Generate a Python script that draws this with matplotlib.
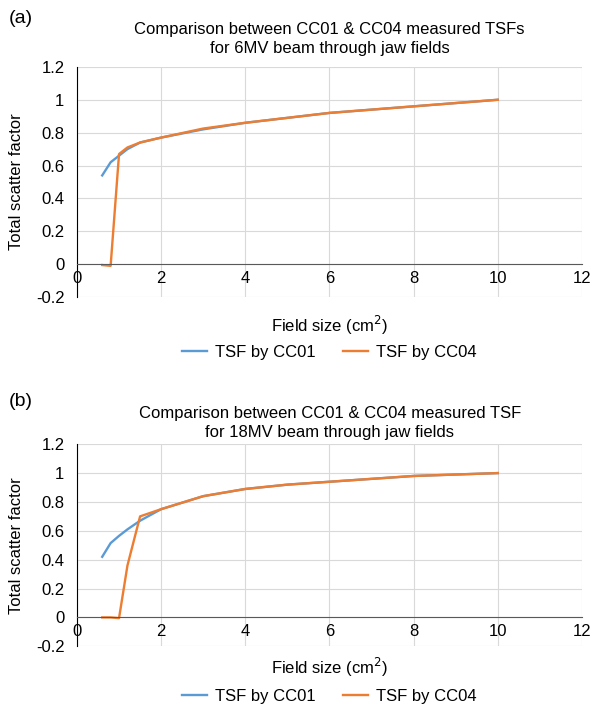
import matplotlib.pyplot as plt

plt.rcParams['font.family'] = ['Liberation Sans', 'DejaVu Sans']

# field sizes (cm2)
field_size = [0.6, 0.8, 1.0, 1.2, 1.5, 2, 3, 4, 5, 6, 8, 10]

# 6MV
tsf_cc01_6mv = [0.54, 0.62, 0.66, 0.70, 0.74, 0.77, 0.82, 0.86, 0.89, 0.92, 0.96, 1.0]
tsf_cc04_6mv = [-0.005, -0.01, 0.67, 0.71, 0.74, 0.77, 0.825, 0.86, 0.89, 0.92, 0.96, 1.0]

# 18MV
tsf_cc01_18mv = [0.42, 0.515, 0.565, 0.61, 0.67, 0.75, 0.84, 0.89, 0.92, 0.94, 0.98, 1.0]
tsf_cc04_18mv = [0.0, 0.0, -0.005, 0.36, 0.70, 0.75, 0.84, 0.89, 0.92, 0.94, 0.98, 1.0]

x_ticks = [0, 2, 4, 6, 8, 10, 12]
y_ticks = [-0.2, 0, 0.2, 0.4, 0.6, 0.8, 1, 1.2]
y_tick_labels = ['-0.2', '0', '0.2', '0.4', '0.6', '0.8', '1', '1.2']

blue = '#5B9BD5'
orange = '#ED7D31'


def draw_panel(ax, cc01, cc04, title, letter, title_y, letter_y, xlabel_y, legend_y):
    ax.plot(field_size, cc01, color=blue, lw=1.7, label='TSF by CC01')
    ax.plot(field_size, cc04, color=orange, lw=1.7, label='TSF by CC04')
    ax.set_xlim(0, 12)
    ax.set_ylim(-0.2, 1.2)
    ax.set_xticks(x_ticks)
    ax.set_yticks(y_ticks)
    ax.set_yticklabels(y_tick_labels)
    ax.grid(True, color='#d9d9d9', lw=0.8)
    ax.set_axisbelow(True)
    ax.spines['top'].set_visible(False)
    ax.spines['right'].set_visible(False)
    ax.spines['bottom'].set_position(('data', 0))
    ax.spines['bottom'].set_color('#595959')
    ax.spines['left'].set_color('black')
    ax.tick_params(length=0, labelsize=12)
    ax.tick_params(axis='y', pad=9)
    ax.tick_params(axis='x', pad=5)
    ax.set_ylabel('Total scatter factor', fontsize=12, va='center')
    ax.yaxis.set_label_coords(-0.119, 0.5)
    ax.set_xlabel('Field size (cm$^2$)', fontsize=12, va='center')
    ax.xaxis.set_label_coords(0.5, xlabel_y)
    fig.text(0.557, title_y, title, ha='center', va='center', fontsize=12,
             linespacing=1.3)
    fig.text(0.015, letter_y, letter, ha='left', va='center', fontsize=14)
    ax.legend(loc='center', bbox_to_anchor=(0.5, legend_y), ncol=2,
              frameon=False, fontsize=12, handlelength=1.5, handletextpad=0.5,
              columnspacing=1.6, borderpad=0, borderaxespad=0)


fig = plt.figure(figsize=(5.92, 7.04), dpi=100)
ax1 = fig.add_axes([0.130, 0.578, 0.853, 0.327])
ax2 = fig.add_axes([0.130, 0.082, 0.853, 0.287])

draw_panel(ax1, tsf_cc01_6mv, tsf_cc04_6mv,
           'Comparison between CC01 & CC04 measured TSFs\nfor 6MV beam through jaw fields',
           '(a)', 0.9446, 0.974, -0.122, -0.239)
draw_panel(ax2, tsf_cc01_18mv, tsf_cc04_18mv,
           'Comparison between CC01 & CC04 measured TSF\nfor 18MV beam through jaw fields',
           '(b)', 0.399, 0.429, -0.104, -0.25)

fig.savefig('out.png', dpi=100)
